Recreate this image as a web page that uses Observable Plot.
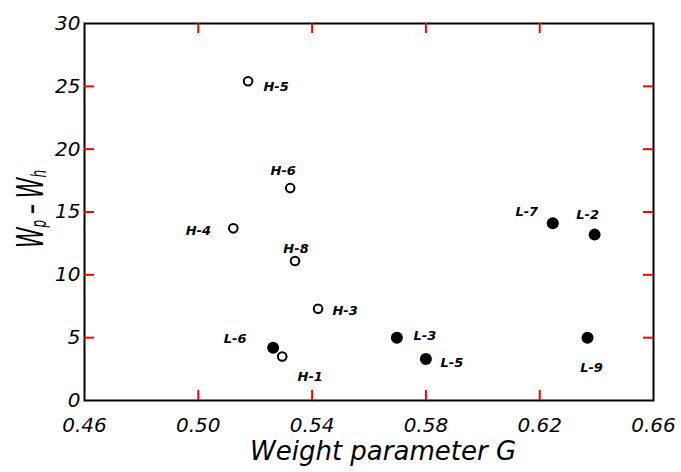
<!DOCTYPE html>
<html><head><meta charset="utf-8">
<script src="https://cdn.jsdelivr.net/npm/d3@7"></script>
<script src="https://cdn.jsdelivr.net/npm/@observablehq/plot@0.6"></script>
<style>body{margin:0;background:#fff} #chart{width:681px;height:472px}</style>
</head><body><div id="chart"></div>
<script>
// Data
const names   = ["L-2","L-3","L-5","L-6","L-7","L-9","H-1","H-3","H-4","H-5","H-6","H-8"];
const weightG = [0.6393,0.5698,0.5800,0.5263,0.6246,0.6368,0.5295,0.5421,0.5123,0.5175,0.5323,0.5340];
const wDiff   = [13.2,5.0,3.3,4.2,14.1,5.0,3.5,7.3,13.7,25.4,16.9,11.1];
const xTicks  = [0.46,0.50,0.54,0.58,0.62,0.66];
const yTicks  = [0,5,10,15,20,25,30];
const xTitle  = "Weight parameter G";

// label placement (layout only), [dx, dy] in px from the point
const labelOffset = {
  "H-5":[28,6], "H-6":[-7,-17], "H-4":[-35,2], "H-8":[1,-12], "H-3":[27,2],
  "L-6":[-38,-9], "H-1":[28,20], "L-3":[28,-2], "L-5":[26,4], "L-9":[4,30],
  "L-7":[-26,-11], "L-2":[-7,-20]
};

const data = names.map((n, i) => ({name: n, g: weightG[i], w: wDiff[i], s: n[0]}));

const labelMarks = data.map(d => Plot.text([d], {
  x: "g", y: "w", text: "name",
  dx: labelOffset[d.name][0], dy: labelOffset[d.name][1],
  fontSize: 13, fontWeight: "bold", fontStyle: "italic", textAnchor: "middle", fill: "#000"
}));

const W = 681, H = 472, mL = 84, mR = 28, mT = 23, mB = 72;
const innerW = W - mL - mR, innerH = H - mT - mB, tick = 10;
const tk = {stroke: "red", strokeWidth: 2};

const chart = Plot.plot({
  width: W, height: H,
  marginLeft: mL, marginRight: mR, marginTop: mT, marginBottom: mB,
  style: {fontFamily: "DejaVu Sans", fontSize: "20px", fontStyle: "italic", background: "#fff", color: "#000", overflow: "visible"},
  x: {domain: [0.46, 0.66]},
  y: {domain: [0, 30]},
  marks: [
    Plot.axisX(xTicks, {anchor: "bottom", tickSize: 0, tickPadding: 17, tickFormat: d3.format(".2f"), label: null}),
    Plot.axisY(yTicks, {anchor: "left", tickSize: 0, tickPadding: 4, label: null}),
    Plot.frame({stroke: "#000", strokeWidth: 2}),
    // inward ticks on all four sides
    Plot.ruleX(xTicks.slice(1, -1), {x: d => d, insetTop: innerH - tick, ...tk}),
    Plot.ruleX(xTicks.slice(1, -1), {x: d => d, insetBottom: innerH - tick, ...tk}),
    Plot.ruleY(yTicks.slice(1, -1), {y: d => d, insetRight: innerW - tick, ...tk}),
    Plot.ruleY(yTicks.slice(1, -1), {y: d => d, insetLeft: innerW - tick, ...tk}),
    Plot.dot(data.filter(d => d.s === "L"), {x: "g", y: "w", r: 6, fill: "#000"}),
    Plot.dot(data.filter(d => d.s === "H"), {x: "g", y: "w", r: 4.3, fill: "#fff", stroke: "#000", strokeWidth: 2}),
    ...labelMarks,
    Plot.text([xTitle], {text: d => d, frameAnchor: "bottom", dx: 14, dy: 51, lineAnchor: "middle", fontSize: 26, fontStyle: "italic"})
  ]
});

// y-axis title with subscripts
const yt = d3.select(chart).append("text")
  .attr("transform", "translate(43,209) rotate(-90) scale(0.55,1)")
  .attr("text-anchor", "middle")
  .attr("font-family", "DejaVu Sans")
  .attr("font-style", "italic")
  .attr("font-size", 38)
  .attr("fill", "#000");
yt.append("tspan").text("W");
yt.append("tspan").attr("font-size", 22).attr("dy", 3).text("p");
yt.append("tspan").attr("dy", -3).attr("dx", 10).text("–");
yt.append("tspan").attr("dx", 10).text("W");
yt.append("tspan").attr("font-size", 22).attr("dy", 3).text("h");

document.getElementById("chart").appendChild(chart);
</script>
</body></html>
